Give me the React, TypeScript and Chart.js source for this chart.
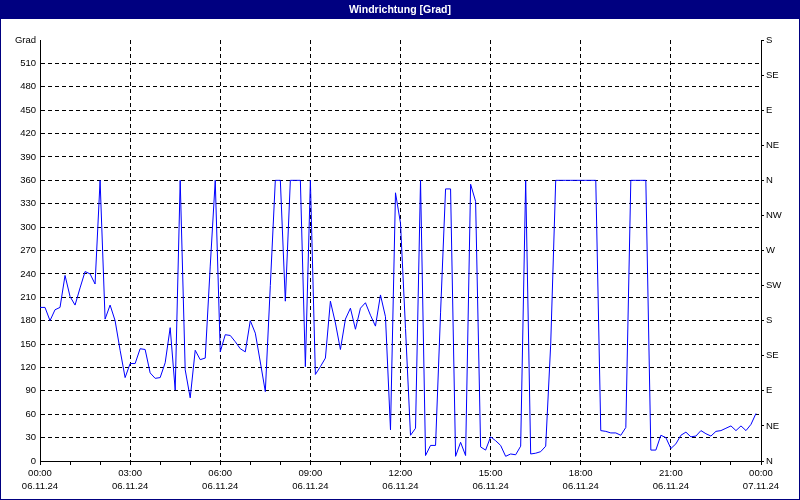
import React, { useEffect, useRef } from 'react';
import { Chart, registerables } from 'chart.js';

Chart.register(...registerables);

const TITLE = 'Windrichtung [Grad]';
const Y_UNIT = 'Grad';
const SAMPLE_MINUTES = 10;
const START_DATE = '06.11.24';
const END_DATE = '07.11.24';
const hourLabels = ['00:00', '03:00', '06:00', '09:00', '12:00', '15:00', '18:00', '21:00', '00:00'];
const compassLabels = ['N', 'NE', 'E', 'SE', 'S', 'SW', 'W', 'NW', 'N', 'NE', 'E', 'SE', 'S'];

// wind direction in degrees, one value every 10 minutes from 00:00 to 23:50
const windDirection = [
  197, 197, 180, 194, 197, 238, 211, 200, 222, 243, 240, 227,
  360, 182, 200, 180, 142, 107, 125, 125, 144, 143, 113, 106,
  107, 126, 171, 91, 360, 117, 81, 142, 130, 132, 250, 360,
  140, 162, 161, 153, 144, 140, 180, 164, 127, 89, 225, 360,
  360, 205, 360, 360, 360, 121, 360, 111, 121, 132, 205, 177,
  143, 182, 196, 169, 196, 203, 187, 173, 213, 185, 40, 344,
  305, 170, 33, 42, 360, 7, 20, 20, 190, 349, 349, 6,
  24, 7, 355, 333, 18, 14, 31, 26, 20, 6, 9, 8,
  19, 360, 9, 10, 12, 19, 150, 360, 360, 360, 360, 360,
  360, 360, 360, 360, 39, 38, 36, 36, 33, 43, 360, 360,
  360, 360, 14, 14, 33, 30, 16, 22, 33, 37, 31, 32,
  39, 35, 32, 38, 39, 42, 45, 39, 45, 39, 47, 61,
];

const FONT_FAMILY = '"Liberation Sans", Arial, sans-serif';
const NAVY = '#000080';
const TRANSPARENT = 'rgba(0,0,0,0)';

const framePlugin = {
  id: 'frame',
  beforeDraw(chart: any) {
    const { ctx, width } = chart;
    ctx.save();
    ctx.fillStyle = '#ffffff';
    ctx.fillRect(0, 0, width, chart.height);
    ctx.fillStyle = NAVY;
    ctx.fillRect(0, 0, width, 19);
    ctx.fillStyle = '#ffffff';
    ctx.font = 'bold 10.5px ' + FONT_FAMILY;
    ctx.textAlign = 'center';
    ctx.textBaseline = 'middle';
    ctx.fillText(TITLE, width / 2, 10);
    ctx.restore();
  },
  afterDraw(chart: any) {
    const { ctx, width, height } = chart;
    ctx.save();
    ctx.strokeStyle = NAVY;
    ctx.lineWidth = 1;
    ctx.strokeRect(0.5, 0.5, width - 1, height - 1);
    ctx.restore();
  },
};

export default function App() {
  const canvasRef = useRef<HTMLCanvasElement | null>(null);

  useEffect(() => {
    document.body.style.margin = '0';
    const canvas = canvasRef.current;
    if (!canvas) return;
    const points = windDirection.map((v, i) => ({ x: i * SAMPLE_MINUTES, y: v }));
    const tickFont = { family: FONT_FAMILY, size: 9.5 };

    const chart = new Chart(canvas, {
      type: 'line',
      data: {
        datasets: [
          {
            data: points,
            borderColor: '#0000ff',
            borderWidth: 1,
            pointRadius: 0,
            tension: 0,
            fill: false,
            yAxisID: 'y',
          },
        ],
      },
      options: {
        animation: false,
        responsive: false,
        devicePixelRatio: 1,
        layout: { padding: { top: 40, left: 0, right: 0, bottom: 0 } },
        plugins: {
          legend: { display: false },
          tooltip: { enabled: false },
          title: { display: false },
        },
        scales: {
          x: {
            type: 'linear',
            min: 0,
            max: 1440,
            ticks: {
              stepSize: 60,
              autoSkip: false,
              maxRotation: 0,
              padding: 1,
              color: '#000',
              font: { ...tickFont, lineHeight: 1.45 },
              callback: (value: any) => {
                const v = Number(value);
                if (v % 180 !== 0) return '';
                return [hourLabels[v / 180], v === 1440 ? END_DATE : START_DATE];
              },
            },
            grid: {
              color: (ctx: any) => {
                const v = ctx.tick ? ctx.tick.value : 0;
                return v % 180 === 0 && v !== 0 && v !== 1440 ? '#000' : TRANSPARENT;
              },
              lineWidth: 1,
              tickColor: '#000',
              tickLength: 4,
              drawTicks: true,
            },
            border: { display: true, color: '#000', width: 1, dash: [4, 3] },
            afterFit: (scale: any) => {
              scale.height = 39;
            },
          },
          y: {
            type: 'linear',
            position: 'left',
            min: 0,
            max: 540,
            ticks: {
              stepSize: 30,
              autoSkip: false,
              padding: 4,
              color: '#000',
              font: tickFont,
              callback: (value: any) => (Number(value) === 540 ? Y_UNIT : String(value)),
            },
            grid: {
              color: (ctx: any) => {
                const v = ctx.tick ? ctx.tick.value : 0;
                return v === 0 || v === 540 ? TRANSPARENT : '#000';
              },
              lineWidth: 1,
              drawTicks: false,
            },
            border: { display: true, color: '#000', width: 1, dash: [4, 3] },
            afterFit: (scale: any) => {
              scale.width = 40;
            },
          },
          y2: {
            type: 'linear',
            position: 'right',
            min: 0,
            max: 540,
            ticks: {
              stepSize: 45,
              autoSkip: false,
              padding: 2,
              color: '#000',
              font: tickFont,
              callback: (value: any) => compassLabels[Math.round(Number(value) / 45)] ?? '',
            },
            grid: {
              drawOnChartArea: false,
              drawTicks: true,
              tickLength: 3,
              tickColor: '#000',
            },
            border: { display: true, color: '#000', width: 1 },
            afterFit: (scale: any) => {
              scale.width = 39;
            },
          },
        },
      } as any,
      plugins: [framePlugin],
    });

    return () => {
      chart.destroy();
    };
  }, []);

  return <canvas ref={canvasRef} width={800} height={500} style={{ display: 'block' }} />;
}
